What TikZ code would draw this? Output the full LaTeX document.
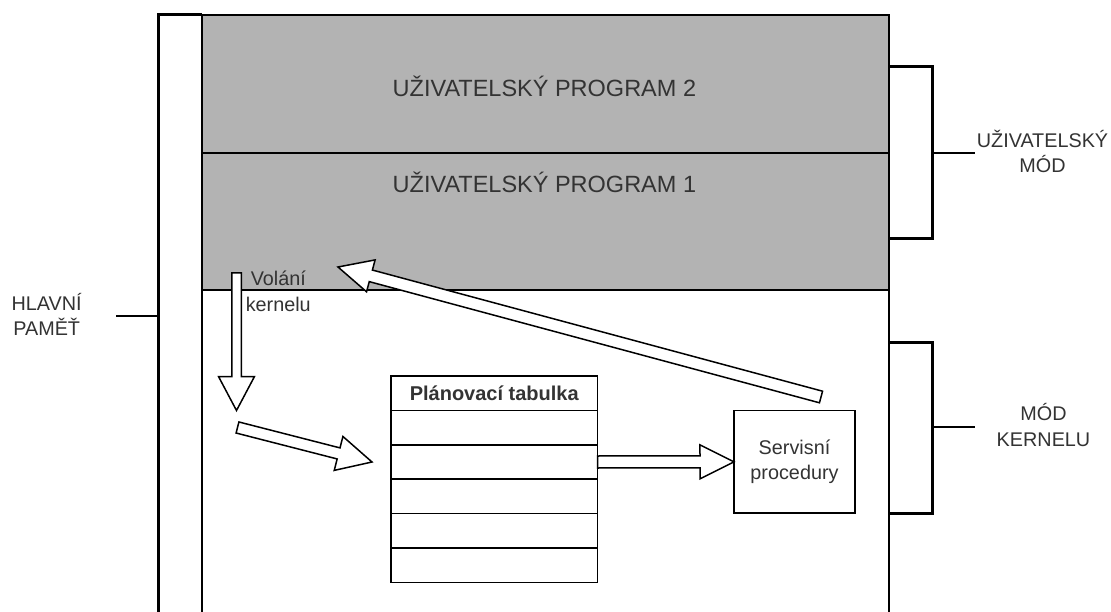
\documentclass[tikz,border=0pt]{standalone}
\usepackage{fontspec}
\setmainfont{Liberation Sans}
\usetikzlibrary{calc}
\definecolor{userfill}{HTML}{B3B3B3}
\definecolor{labeltext}{HTML}{333333}
% block arrow: #1 name, #2 from, #3 to, #4 shaft half width, #5 head half width, #6 head length
\newcommand\blockarrow[6]{%
  \coordinate (#1h) at ($(#3)!#6!(#2)$);
  \filldraw[blockarr] ($(#2)!#4!90:(#3)$) -- ($(#1h)!#4!90:(#3)$) -- ($(#1h)!#5!90:(#3)$) -- (#3)
    -- ($(#1h)!#5!-90:(#3)$) -- ($(#1h)!#4!-90:(#3)$) -- ($(#2)!#4!-90:(#3)$) -- cycle;
}
\begin{document}
\begin{tikzpicture}[x=1pt,y=-1pt,
  region/.style={draw=black, line width=1.7pt, inner sep=0pt, outer sep=0pt, anchor=north west},
  cell/.style={draw=black, line width=1.7pt, fill=white, inner sep=0pt, outer sep=0pt,
    minimum width=206.5pt, minimum height=34.4pt, anchor=north west, text=labeltext},
  brace/.style={draw=black, line width=3pt},
  tickline/.style={draw=black, line width=2.2pt},
  lbl/.style={anchor=base, inner sep=0pt, text=labeltext, font=\fontsize{19.8}{24}\selectfont},
  titlelbl/.style={anchor=base, inner sep=0pt, text=labeltext, font=\fontsize{23.5}{28}\selectfont},
  blockarr/.style={draw=black, line width=1.5pt, fill=white, line join=miter}
]
\useasboundingbox (0,0) rectangle (1111,612);
\clip (0,0) rectangle (1111,612);
\fill[white] (0,0) rectangle (1111,612);

% memory regions
\node[region, fill=userfill, minimum width=687pt, minimum height=138pt] (prog2) at (202,15) {};
\node[region, fill=userfill, minimum width=687pt, minimum height=137pt] (prog1) at (202,153) {};
\node[region, fill=white, minimum width=687pt, minimum height=400pt] (kern) at (202,290) {};

% left bracket (main memory)
\draw[brace] (202,15) -- (158.5,15) -- (158.5,650);
\draw[tickline] (158.5,316) -- (116,316);

% right brackets
\draw[brace] (889,67) -- (932,67) -- (932,238.5) -- (889,238.5);
\draw[tickline] (932,153) -- (975,153);
\draw[brace] (889,342) -- (932,342) -- (932,513) -- (889,513);
\draw[tickline] (932,427) -- (975,427);

% scheduling table
\node[cell, font=\bfseries\fontsize{20}{24}\selectfont] (hdr) at (391,376) {Plánovací tabulka};
\node[cell] (r1) at (hdr.south west) {};
\node[cell] (r2) at (r1.south west) {};
\node[cell] (r3) at (r2.south west) {};
\node[cell] (r4) at (r3.south west) {};
\node[cell] (r5) at (r4.south west) {};

% service procedures
\node[draw=black, line width=1.5pt, fill=white, minimum width=121pt, minimum height=102.3pt,
  align=center, text=labeltext, font=\fontsize{19.8}{25}\selectfont, anchor=north west,
  inner sep=0pt, outer sep=0pt] (serv) at (734,410.7) {Servisní\\procedury};

% arrows
\coordinate (dA) at (236.5,273);
\coordinate (dB) at (236.5,410.5);
\blockarrow{d}{dA}{dB}{4.75pt}{18pt}{34pt}
\coordinate (gA) at (237.5,427.5);
\coordinate (gB) at (372,462);
\blockarrow{g}{gA}{gB}{5.7pt}{17.5pt}{34.5pt}
\blockarrow{h}{r2.east}{serv.west}{6pt}{17pt}{34pt}
\coordinate (uA) at (821,397);
\coordinate (uB) at (338,267);
\blockarrow{u}{uA}{uB}{6pt}{16.5pt}{34pt}

% texts
\node[titlelbl] (t2) at (544.4,96.7) {UŽIVATELSKÝ PROGRAM 2};
\node[titlelbl] (t1) at (544.4,192.3) {UŽIVATELSKÝ PROGRAM 1};
\node[lbl] (um1) at (1042.5,147.3) {UŽIVATELSKÝ};
\node[lbl] (um2) at (1042.5,172.3) {MÓD};
\node[lbl] (km1) at (1043.5,420) {MÓD};
\node[lbl] (km2) at (1043.5,446) {KERNELU};
\node[lbl] (hp1) at (46.7,310.7) {HLAVNÍ};
\node[lbl] (hp2) at (46.7,335.7) {PAMĚŤ};
\node[lbl] (vk1) at (278.3,285.7) {Volání};
\node[lbl] (vk2) at (278.3,311.7) {kernelu};
\end{tikzpicture}
\end{document}
